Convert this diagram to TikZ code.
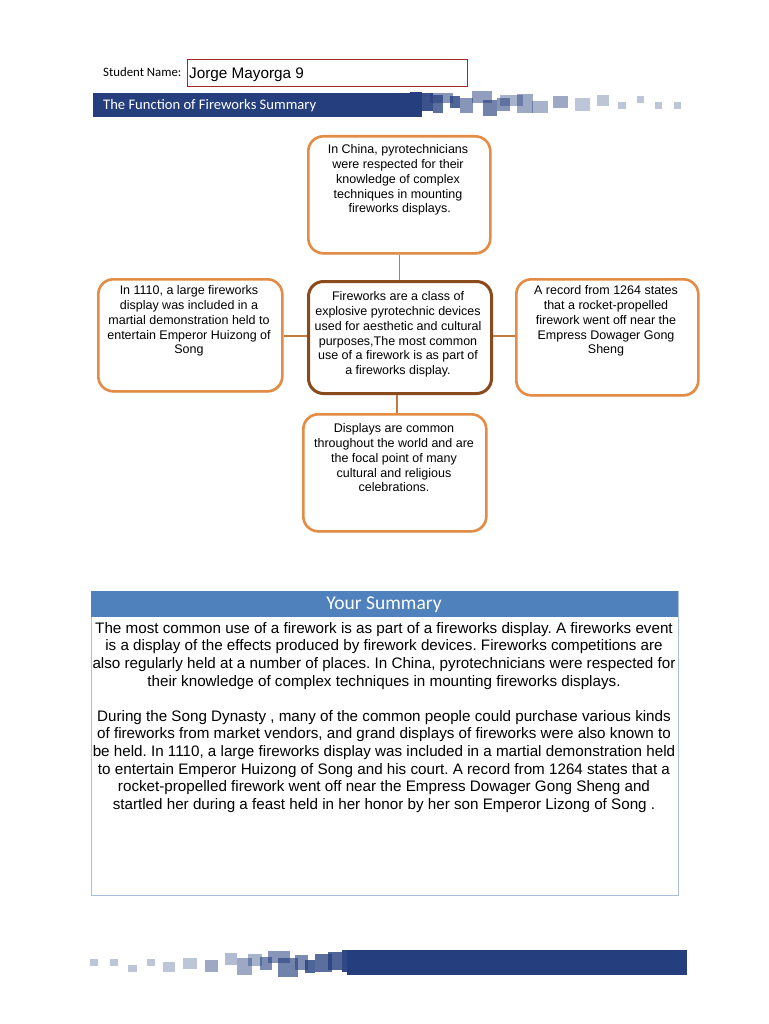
\documentclass[tikz,border=0pt]{standalone}
\usepackage{fontspec}
\setmainfont{Liberation Sans}
\newfontfamily\calfont{Carlito}
\usetikzlibrary{shadows}
\definecolor{barblue}{HTML}{253F7E}
\definecolor{boxorange}{HTML}{E38C45}
\definecolor{boxbrown}{HTML}{8A4A1C}
\definecolor{linkcol}{HTML}{C27A3E}
\definecolor{sumhead}{HTML}{4F81BD}
\definecolor{sumborder}{HTML}{A9C0DD}
\definecolor{namered}{HTML}{A3282E}
\tikzset{
  card/.style={draw=boxorange, line width=2.6pt, rounded corners=15pt, fill=white,
    drop shadow={shadow xshift=1pt, shadow yshift=-1.5pt, opacity=0.22}},
  centercard/.style={card, draw=boxbrown, line width=3pt},
  cardtext/.style={anchor=north, align=center, inner sep=0pt,
    font=\fontsize{12.5}{14.75}\selectfont},
  link/.style={draw=linkcol, line width=1.6pt},
  sq/.style={fill=barblue, draw=none},
}
\frenchspacing
\begin{document}
\begin{tikzpicture}[x=1pt, y=-1pt]
\useasboundingbox (0,0) rectangle (768,1024);
\fill[white] (0,0) rectangle (768,1024);

% student name
\node[anchor=base west, inner sep=0pt, font=\calfont\fontsize{12.8}{14}\selectfont] (sname) at (103,77) {Student Name:};
\node[draw=namered, line width=1pt, minimum width=280pt, minimum height=27pt, anchor=north west, inner sep=0pt] (namebox) at (187,59) {};
\node[anchor=base west, inner sep=0pt, font=\fontsize{15.3}{18}\selectfont] (nameval) at (189,79) {Jorge Mayorga 9};

% header decorative squares
\fill[sq, opacity=0.9] (422,93) rectangle (433,111);
\fill[sq, opacity=0.75] (433,95) rectangle (443,113);
\fill[sq, opacity=0.55] (430,93) rectangle (453,103);
\fill[sq, opacity=0.8] (450,96) rectangle (460,108);
\fill[sq, opacity=0.55] (460,98) rectangle (473,113);
\fill[sq, opacity=0.5] (472,91) rectangle (492,103);
\fill[sq, opacity=0.65] (483,100) rectangle (497,116);
\fill[sq, opacity=0.55] (497,98) rectangle (510,111);
\fill[sq, opacity=0.4] (500,95) rectangle (523,106);
\fill[sq, opacity=0.45] (517,94) rectangle (533,113);
\fill[sq, opacity=0.4] (532,101) rectangle (548,113);
\fill[sq, opacity=0.45] (553,96) rectangle (568,108);
\fill[sq, opacity=0.3] (575,98) rectangle (590,111);
\fill[sq, opacity=0.3] (597,95) rectangle (609,106);
\fill[sq, opacity=0.3] (618,102) rectangle (626,109);
\fill[sq, opacity=0.3] (637,96) rectangle (644,103);
\fill[sq, opacity=0.3] (655,102) rectangle (662,109);
\fill[sq, opacity=0.3] (674,102) rectangle (681,109);
% header bar
\node[fill=barblue, minimum width=329pt, minimum height=24pt, anchor=north west, inner sep=0pt] (hbar) at (93,93) {};
\fill[sq] (410,92) rectangle (422,117);
\node[anchor=west, inner sep=0pt, text=white, font=\calfont\fontsize{14.6}{16}\selectfont] (htitle) at (103,105.5) {The Function of Fireworks Summary};

% boxes
\node[card, minimum width=182pt, minimum height=117pt, anchor=north west, inner sep=0pt] (btop) at (307,135) {};
\node[card, minimum width=184pt, minimum height=112pt, anchor=north west, inner sep=0pt] (bleft) at (97,278) {};
\node[centercard, minimum width=183pt, minimum height=112pt, anchor=north west, inner sep=0pt] (bcenter) at (307,280) {};
\node[card, minimum width=182pt, minimum height=116pt, anchor=north west, inner sep=0pt] (bright) at (515,278) {};
\node[card, minimum width=183pt, minimum height=117pt, anchor=north west, inner sep=0pt] (bbottom) at (302,413) {};

% connectors
\path[link] (btop.south) -- (btop.south |- bcenter.north);
\path[link] (bcenter.west |- 0,336) -- (bleft.east |- 0,336);
\path[link] (bcenter.east |- 0,336) -- (bright.west |- 0,336);
\path[link] (bcenter.south -| 397,0) -- (bbottom.north -| 397,0);

% box texts
\node[cardtext] (ttop) at (398,144.5) {In China, pyrotechnicians\\were respected for their\\knowledge of complex\\techniques in mounting\\\ fireworks displays.};
\node[cardtext] (tleft) at (189,285.5) {In 1110, a large fireworks\\display was included in a\\martial demonstration held to\\entertain Emperor Huizong of\\Song};
\node[cardtext] (tcenter) at (398,291.5) {Fireworks are a class of\\explosive pyrotechnic devices\\used for aesthetic and cultural\\purposes,The most common\\use of a firework is as part of\\a fireworks display.};
\node[cardtext] (tright) at (606,285.5) {A record from 1264 states\\that a rocket-propelled\\firework went off near the\\Empress Dowager Gong\\Sheng};
\node[cardtext] (tbottom) at (394,423.5) {Displays are common\\throughout the world and are\\the focal point of many\\cultural and religious\\celebrations.};

% summary
\node[draw=sumborder, line width=0.8pt, minimum width=587pt, minimum height=304pt, anchor=north west, inner sep=0pt] (sumbox) at (91,591) {};
\node[fill=sumhead, minimum width=587pt, minimum height=26pt, anchor=north west, inner sep=0pt] (sumhead) at (91,591) {};
\node[text=white, inner sep=0pt, font=\calfont\fontsize{19.5}{21}\selectfont] (sumtitle) at (384,604.5) {Your Summary};
\node[anchor=north, align=center, inner sep=0pt, font=\fontsize{15.2}{17.6}\selectfont] (sumtext) at (384,622) {The most common use of a firework is as part of a fireworks display. A fireworks event\\is a display of the effects produced by firework devices. Fireworks competitions are\\also regularly held at a number of places. In China, pyrotechnicians were respected for\\their knowledge of complex techniques in mounting fireworks displays.\\[17.6pt]During the Song Dynasty , many of the common people could purchase various kinds\\of fireworks from market vendors, and grand displays of fireworks were also known to\\be held. In 1110, a large fireworks display was included in a martial demonstration held\\to entertain Emperor Huizong of Song and his court. A record from 1264 states that a\\rocket-propelled firework went off near the Empress Dowager Gong Sheng and\\startled her during a feast held in her honor by her son Emperor Lizong of Song .};

% footer squares
\fill[sq, opacity=0.3] (90,959) rectangle (98,966);
\fill[sq, opacity=0.3] (110,959) rectangle (118,966);
\fill[sq, opacity=0.3] (128,965) rectangle (137,972);
\fill[sq, opacity=0.3] (147,959) rectangle (155,966);
\fill[sq, opacity=0.3] (163,962) rectangle (175,972);
\fill[sq, opacity=0.3] (183,958) rectangle (197,969);
\fill[sq, opacity=0.45] (205,960) rectangle (218,972);
\fill[sq, opacity=0.35] (225,953) rectangle (237,965);
\fill[sq, opacity=0.45] (237,958) rectangle (252,975);
\fill[sq, opacity=0.4] (248,954) rectangle (262,966);
\fill[sq, opacity=0.6] (260,957) rectangle (272,970);
\fill[sq, opacity=0.55] (268,951) rectangle (290,963);
\fill[sq, opacity=0.65] (278,958) rectangle (298,977);
\fill[sq, opacity=0.6] (295,955) rectangle (308,970);
\fill[sq, opacity=0.8] (305,960) rectangle (315,973);
\fill[sq, opacity=0.75] (315,954) rectangle (332,972);
\fill[sq, opacity=0.8] (328,952) rectangle (342,970);
\fill[sq, opacity=0.95] (342,950) rectangle (352,972);
\node[fill=barblue, minimum width=340pt, minimum height=25pt, anchor=north west, inner sep=0pt] (fbar) at (347,950) {};
\end{tikzpicture}
\end{document}
